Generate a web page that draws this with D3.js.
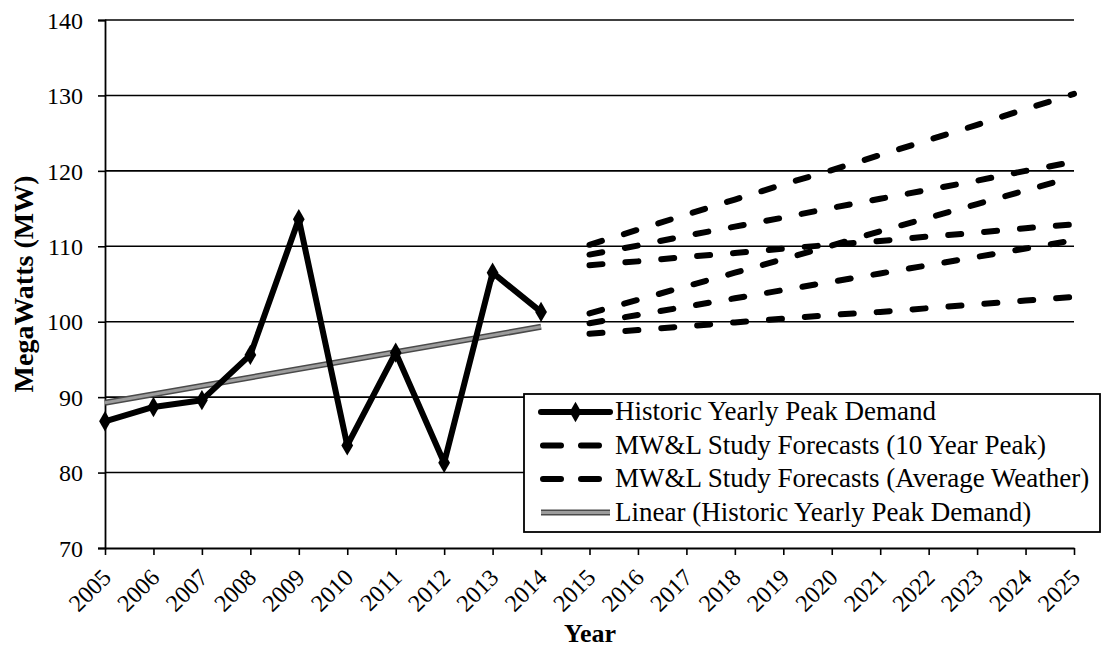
<!DOCTYPE html>
<html>
<head>
<meta charset="utf-8">
<script src="https://cdn.jsdelivr.net/npm/d3@7"></script>
<style>
  html, body { margin: 0; padding: 0; background: #fff; }
  svg { display: block; }
  text { font-family: "Liberation Serif", "DejaVu Serif", serif; fill: #000; }
</style>
</head>
<body>
<svg id="chart" width="1105" height="648"></svg>
<script>
// Years on the category axis
const years = d3.range(2005, 2026).map(String);
const yTicks = [70, 80, 90, 100, 110, 120, 130, 140];

// Historic yearly peak demand (MW)
const histYears = ["2005","2006","2007","2008","2009","2010","2011","2012","2013","2014"];
const histValues = [86.8, 88.7, 89.6, 95.6, 113.6, 83.6, 95.9, 81.3, 106.5, 101.3];

// MW&L study forecasts, 2015-2025
const fcYears = ["2015","2016","2017","2018","2019","2020","2021","2022","2023","2024","2025"];
const peakHigh = [110.2, 112.2, 114.2, 116.2, 118.2, 120.1, 122.1, 124.1, 126.1, 128.2, 130.2];
const peakMid  = [108.9, 110.1, 111.4, 112.6, 113.8, 115.1, 116.3, 117.5, 118.7, 120.0, 121.2];
const peakLow  = [107.5, 108.0, 108.6, 109.1, 109.7, 110.2, 110.7, 111.3, 111.8, 112.4, 112.9];
const avgHigh  = [101.1, 102.9, 104.7, 106.5, 108.3, 110.1, 112.0, 113.8, 115.6, 117.4, 119.2];
const avgMid   = [99.8, 100.9, 102.0, 103.1, 104.2, 105.3, 106.4, 107.5, 108.6, 109.7, 110.8];
const avgLow   = [98.4, 98.9, 99.4, 99.9, 100.4, 100.9, 101.3, 101.8, 102.3, 102.8, 103.3];

const legendLabels = [
  "Historic Yearly Peak Demand",
  "MW&L Study Forecasts (10 Year Peak)",
  "MW&L Study Forecasts (Average Weather)",
  "Linear (Historic Yearly Peak Demand)"
];

const svg = d3.select("#chart");
const plotLeft = 105, plotRight = 1074, plotTop = 20, plotBottom = 548;

const x = d3.scalePoint().domain(years).range([plotLeft, plotRight]);
const y = d3.scaleLinear().domain([70, 140]).range([plotBottom, plotTop]);

// Horizontal gridlines
svg.append("g").selectAll("line").data(yTicks.slice(1)).join("line")
  .attr("x1", plotLeft).attr("x2", plotRight)
  .attr("y1", d => y(d)).attr("y2", d => y(d))
  .attr("stroke", "#000").attr("stroke-width", 1.6);

// Y axis
const yAxis = svg.append("g").attr("transform", `translate(${plotLeft},0)`)
  .call(d3.axisLeft(y).tickValues(yTicks).tickSize(7).tickPadding(15));
yAxis.select(".domain").attr("stroke", "#000").attr("stroke-width", 1.8);
yAxis.selectAll(".tick line").attr("stroke", "#000").attr("stroke-width", 1.6);
yAxis.selectAll("text").attr("font-size", 24).attr("font-family", "Liberation Serif")
  .attr("dy", "0.34em");

// X axis
const xAxis = svg.append("g").attr("transform", `translate(0,${plotBottom})`)
  .call(d3.axisBottom(x).tickSize(7).tickSizeOuter(0));
xAxis.select(".domain").attr("stroke", "#000").attr("stroke-width", 1.8);
xAxis.selectAll(".tick line").attr("stroke", "#000").attr("stroke-width", 1.6);
xAxis.selectAll("text")
  .attr("font-size", 24).attr("font-family", "Liberation Serif")
  .attr("text-anchor", "end")
  .attr("dy", null).attr("y", 0)
  .attr("transform", "translate(7,31) rotate(-45)");

// Axis titles
svg.append("text").attr("x", 590).attr("y", 642).attr("text-anchor", "middle")
  .attr("font-size", 26).attr("font-weight", "bold").text("Year");
svg.append("text").attr("transform", "translate(33,284) rotate(-90)")
  .attr("text-anchor", "middle").attr("font-size", 28).attr("font-weight", "bold")
  .text("MegaWatts (MW)");

const line = d3.line().x(d => x(d[0])).y(d => y(d[1]));

// Linear trend of historic peaks (least squares)
const n = histValues.length;
const xs = d3.range(n);
const mx = d3.mean(xs), my = d3.mean(histValues);
const slope = d3.sum(xs, (v, i) => (v - mx) * (histValues[i] - my)) / d3.sum(xs, v => (v - mx) ** 2);
const trend = [[histYears[0], my - slope * mx], [histYears[n - 1], my + slope * (n - 1 - mx)]];
svg.append("path").attr("d", line(trend)).attr("fill", "none")
  .attr("stroke", "#4a4a4a").attr("stroke-width", 6);
svg.append("path").attr("d", line(trend)).attr("fill", "none")
  .attr("stroke", "#9c9c9c").attr("stroke-width", 3);

// Forecast series (dashed)
const dash = "13 23";
[peakHigh, peakMid, peakLow, avgHigh, avgMid, avgLow].forEach(vals => {
  svg.append("path").attr("d", line(fcYears.map((yr, i) => [yr, vals[i]])))
    .attr("fill", "none").attr("stroke", "#000").attr("stroke-width", 6)
    .attr("stroke-linecap", "round").attr("stroke-dasharray", dash);
});

// Historic series with diamond markers
const hist = histYears.map((yr, i) => [yr, histValues[i]]);
svg.append("path").attr("d", line(hist)).attr("fill", "none")
  .attr("stroke", "#000").attr("stroke-width", 6).attr("stroke-linejoin", "round");
const diamond = d3.symbol().type(d3.symbolDiamond).size(120);
svg.append("g").selectAll("path").data(hist).join("path")
  .attr("d", diamond)
  .attr("transform", d => `translate(${x(d[0])},${y(d[1])})`)
  .attr("fill", "#000");

// Legend
const lg = svg.append("g").attr("transform", "translate(524,394)");
lg.append("rect").attr("width", 576).attr("height", 138)
  .attr("fill", "#fff").attr("stroke", "#000").attr("stroke-width", 1.8);
const rowY = i => 18 + i * 33.5;
const sx0 = 17, sx1 = 86;
lg.selectAll("text").data(legendLabels).join("text")
  .attr("x", 91).attr("y", (d, i) => rowY(i) + 8)
  .attr("font-size", 27).text(d => d);
// sample 1: solid with diamond
lg.append("line").attr("x1", sx0).attr("x2", sx1).attr("y1", rowY(0)).attr("y2", rowY(0))
  .attr("stroke", "#000").attr("stroke-width", 6).attr("stroke-linecap", "round");
lg.append("path").attr("d", diamond).attr("transform", `translate(${(sx0 + sx1) / 2},${rowY(0)})`);
// samples 2 and 3: dashed
[1, 2].forEach(i => {
  lg.append("line").attr("x1", sx0 + 2).attr("x2", sx1 - 4).attr("y1", rowY(i)).attr("y2", rowY(i))
    .attr("stroke", "#000").attr("stroke-width", 6).attr("stroke-linecap", "round")
    .attr("stroke-dasharray", "18 20");
});
// sample 4: trend
lg.append("line").attr("x1", sx0).attr("x2", sx1).attr("y1", rowY(3)).attr("y2", rowY(3))
  .attr("stroke", "#4a4a4a").attr("stroke-width", 6);
lg.append("line").attr("x1", sx0).attr("x2", sx1).attr("y1", rowY(3)).attr("y2", rowY(3))
  .attr("stroke", "#9c9c9c").attr("stroke-width", 3);
</script>
</body>
</html>
